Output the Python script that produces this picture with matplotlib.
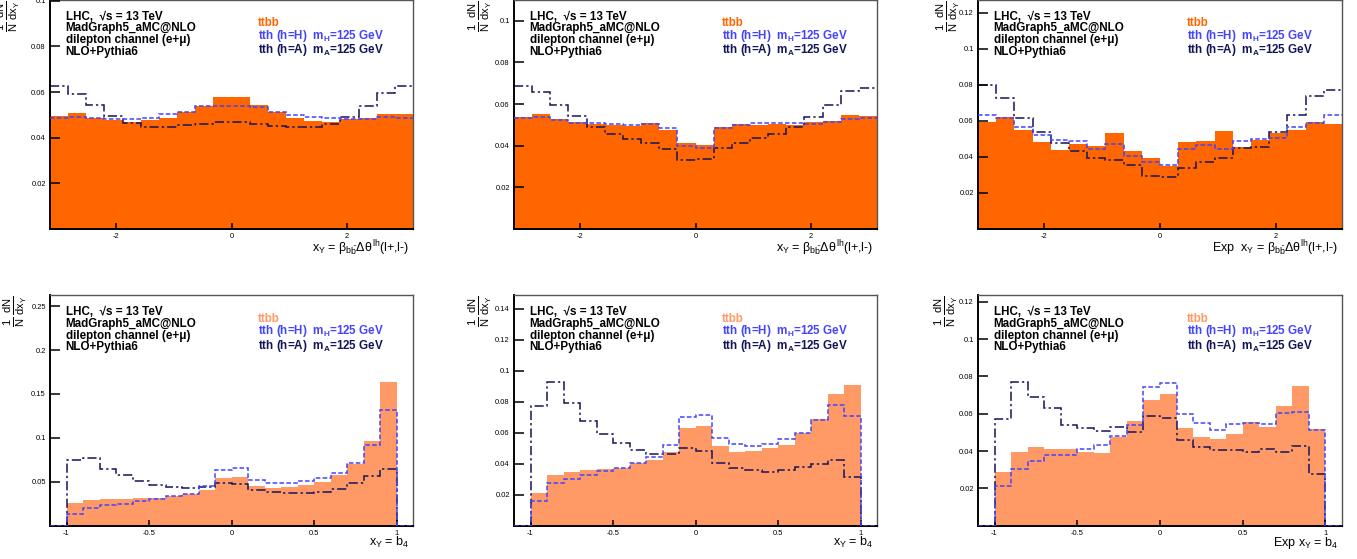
import numpy as np
import matplotlib
matplotlib.use("Agg")
import matplotlib.pyplot as plt

plt.rcParams['font.family'] = ['Liberation Sans', 'DejaVu Sans']
plt.rcParams['mathtext.fontset'] = 'custom'
plt.rcParams['mathtext.rm'] = 'Liberation Sans'
plt.rcParams['mathtext.it'] = 'Liberation Sans'
plt.rcParams['mathtext.bf'] = 'Liberation Sans:bold'
plt.rcParams['axes.unicode_minus'] = False

# --- данные: верхний ряд, 20 бинов от -pi до pi ---
ttbb_1 = [0.0497, 0.0506, 0.0484, 0.0477, 0.0468, 0.0476, 0.0484, 0.0512, 0.0540, 0.0576,
          0.0576, 0.0544, 0.0512, 0.0484, 0.0471, 0.0468, 0.0480, 0.0486, 0.0505, 0.0502]
tthH_1 = [0.0487, 0.0490, 0.0484, 0.0480, 0.0481, 0.0487, 0.0505, 0.0512, 0.0538, 0.0540,
          0.0538, 0.0535, 0.0512, 0.0499, 0.0490, 0.0486, 0.0480, 0.0483, 0.0490, 0.0487]
tthA_1 = [0.0628, 0.0593, 0.0541, 0.0494, 0.0465, 0.0448, 0.0448, 0.0454, 0.0458, 0.0470,
          0.0470, 0.0459, 0.0451, 0.0446, 0.0446, 0.0462, 0.0492, 0.0538, 0.0595, 0.0626]

ttbb_2 = [0.0539, 0.0554, 0.0530, 0.0515, 0.0504, 0.0499, 0.0494, 0.0509, 0.0474, 0.0413,
          0.0403, 0.0488, 0.0502, 0.0498, 0.0502, 0.0499, 0.0512, 0.0518, 0.0547, 0.0541]
tthH_2 = [0.0531, 0.0536, 0.0525, 0.0510, 0.0510, 0.0502, 0.0499, 0.0502, 0.0485, 0.0400,
          0.0387, 0.0485, 0.0499, 0.0510, 0.0510, 0.0509, 0.0506, 0.0514, 0.0530, 0.0534]
tthA_2 = [0.0686, 0.0659, 0.0598, 0.0541, 0.0491, 0.0456, 0.0430, 0.0413, 0.0386, 0.0333,
          0.0336, 0.0387, 0.0411, 0.0437, 0.0454, 0.0488, 0.0536, 0.0598, 0.0661, 0.0678]

ttbb_3 = [0.0593, 0.0622, 0.0550, 0.0480, 0.0439, 0.0469, 0.0463, 0.0535, 0.0431, 0.0391,
          0.0350, 0.0483, 0.0489, 0.0546, 0.0454, 0.0491, 0.0531, 0.0550, 0.0593, 0.0581]
tthH_3 = [0.0630, 0.0617, 0.0563, 0.0519, 0.0496, 0.0489, 0.0441, 0.0470, 0.0406, 0.0372,
          0.0354, 0.0441, 0.0467, 0.0446, 0.0489, 0.0500, 0.0507, 0.0565, 0.0589, 0.0633]
tthA_3 = [0.0796, 0.0728, 0.0615, 0.0537, 0.0478, 0.0431, 0.0393, 0.0385, 0.0356, 0.0296,
          0.0291, 0.0341, 0.0374, 0.0393, 0.0450, 0.0457, 0.0539, 0.0630, 0.0735, 0.0772]

# --- нижний ряд, 20 бинов от -1 до 1 (гистограмма от -1.1 до 1.1) ---
ttbb_4 = [0.0254, 0.0295, 0.0299, 0.0303, 0.0311, 0.0318, 0.0337, 0.0364, 0.0405, 0.0542,
          0.0553, 0.0451, 0.0428, 0.0439, 0.0458, 0.0500, 0.0576, 0.0708, 0.0962, 0.1640]
tthH_4 = [0.0133, 0.0205, 0.0239, 0.0250, 0.0280, 0.0303, 0.0337, 0.0364, 0.0455, 0.0640,
          0.0659, 0.0519, 0.0489, 0.0489, 0.0504, 0.0542, 0.0602, 0.0716, 0.0924, 0.1314]
tthA_4 = [0.0746, 0.0773, 0.0648, 0.0576, 0.0504, 0.0466, 0.0436, 0.0428, 0.0443, 0.0489,
          0.0477, 0.0402, 0.0379, 0.0367, 0.0367, 0.0379, 0.0420, 0.0481, 0.0568, 0.0648]

ttbb_5 = [0.0209, 0.0327, 0.0346, 0.0357, 0.0363, 0.0374, 0.0406, 0.0424, 0.0477, 0.0630,
          0.0643, 0.0514, 0.0475, 0.0484, 0.0499, 0.0520, 0.0600, 0.0686, 0.0847, 0.0907]
tthH_5 = [0.0157, 0.0273, 0.0303, 0.0329, 0.0353, 0.0374, 0.0406, 0.0445, 0.0518, 0.0699,
          0.0716, 0.0568, 0.0527, 0.0514, 0.0525, 0.0557, 0.0598, 0.0682, 0.0781, 0.0708]
tthA_5 = [0.0774, 0.0927, 0.0789, 0.0675, 0.0594, 0.0531, 0.0486, 0.0460, 0.0462, 0.0499,
          0.0482, 0.0402, 0.0374, 0.0359, 0.0344, 0.0357, 0.0376, 0.0396, 0.0421, 0.0316]

ttbb_6 = [0.0288, 0.0395, 0.0420, 0.0413, 0.0411, 0.0393, 0.0388, 0.0477, 0.0559, 0.0673,
          0.0704, 0.0523, 0.0477, 0.0463, 0.0489, 0.0557, 0.0529, 0.0641, 0.0748, 0.0518]
tthH_6 = [0.0211, 0.0304, 0.0345, 0.0379, 0.0379, 0.0411, 0.0430, 0.0482, 0.0538, 0.0745,
          0.0764, 0.0600, 0.0552, 0.0513, 0.0543, 0.0548, 0.0543, 0.0602, 0.0609, 0.0511]
tthA_6 = [0.0570, 0.0771, 0.0689, 0.0632, 0.0539, 0.0523, 0.0507, 0.0529, 0.0504, 0.0589,
          0.0577, 0.0459, 0.0423, 0.0404, 0.0405, 0.0393, 0.0413, 0.0395, 0.0427, 0.0275]

yticks_top = [[0.02, 0.04, 0.06, 0.08, 0.1],
              [0.02, 0.04, 0.06, 0.08, 0.1],
              [0.02, 0.04, 0.06, 0.08, 0.1, 0.12]]
yticks_bot = [[0.05, 0.1, 0.15, 0.2, 0.25],
              [0.02, 0.04, 0.06, 0.08, 0.1, 0.12, 0.14],
              [0.02, 0.04, 0.06, 0.08, 0.1, 0.12]]
ymax_top = [0.1003, 0.110, 0.127]
ymax_bot = [0.2624, 0.1486, 0.1235]

xlabel_top = [r'$x_{Y}$ = $\beta_{b\bar{b}}\Delta\theta^{lh}$(l+,l-)',
              r'$x_{Y}$ = $\beta_{b\bar{b}}\Delta\theta^{lh}$(l+,l-)',
              r'Exp  $x_{Y}$ = $\beta_{b\bar{b}}\Delta\theta^{lh}$(l+,l-)']
xlabel_bot = [r'$x_{Y}$ = $b_{4}$', r'$x_{Y}$ = $b_{4}$', r'Exp $x_{Y}$ = $b_{4}$']

ORANGE = '#ff6600'
SALMON = '#ff9966'
BLUE = '#4444ff'
NAVY = '#14145a'

W, H = 1357, 559
fig = plt.figure(figsize=(W / 100, H / 100), dpi=100)

col_x = [50, 514, 978]
col_w = [363, 363, 364]
ylab_off = [42, 34, 30, 35, 34, 32]


def make_axes(col, top_px, bottom_px):
    return fig.add_axes([col_x[col] / W, 1 - bottom_px / H, col_w[col] / W, (bottom_px - top_px) / H])


def style_axes(ax, idx, yticks, xticks, xlab):
    for s in ['left', 'bottom']:
        ax.spines[s].set_linewidth(1.4)
        ax.spines[s].set_color('black')
    for s in ['top', 'right']:
        ax.spines[s].set_linewidth(1.0)
        ax.spines[s].set_color('#555555')
    ax.set_yticks(yticks)
    ax.set_yticklabels(['%g' % v for v in yticks])
    ax.set_xticks(xticks)
    ax.set_xticklabels(['%g' % v for v in xticks])
    ax.tick_params(axis='y', direction='in', length=7.5, width=1.1, labelsize=5.4, pad=3)
    ax.tick_params(axis='x', direction='in', length=4, width=1.1, labelsize=5.4, pad=3)
    ax.set_axisbelow(False)
    ax.text(1.0 - 4 / 363, -0.04, xlab, transform=ax.transAxes, ha='right', va='top', fontsize=9)
    ax.text(-ylab_off[idx] / 363, 1.0, r'$\frac{1}{N}\,\frac{dN}{dx_{Y}}$', transform=ax.transAxes,
            rotation=90, ha='center', va='top', fontsize=11.5)
    # подписи
    hpx = 229.0
    lines = ['LHC,  √s = 13 TeV', 'MadGraph5_aMC@NLO', 'dilepton channel (e+μ)', 'NLO+Pythia6']
    for k, t in enumerate(lines):
        ax.text(0.043, 1 - (17 + 11.5 * k) / hpx, t, transform=ax.transAxes, ha='left', va='center',
                fontsize=8.4, fontweight='bold', color='black')


def legend_texts(ax, fill_color):
    hpx = 229.0
    ax.text(0.573, 1 - 23.5 / hpx, 'ttbb', transform=ax.transAxes, ha='left', va='center',
            fontsize=8.4, fontweight='bold', color=fill_color)
    ax.text(0.573, 1 - 35.5 / hpx, r'tth (h=H)  m$_{\mathbf{H}}$=125 GeV', transform=ax.transAxes,
            ha='left', va='center', fontsize=8.4, fontweight='bold', color=BLUE)
    ax.text(0.573, 1 - 50 / hpx, r'tth (h=A)  m$_{\mathbf{A}}$=125 GeV', transform=ax.transAxes,
            ha='left', va='center', fontsize=8.4, fontweight='bold', color=NAVY)


def draw_hists(ax, edges, tb, th, ta, fill_color):
    ax.stairs(tb, edges, fill=True, color=fill_color, zorder=1)
    ax.stairs(ta, edges, baseline=None, color=NAVY, lw=1.1, linestyle=(0, (6, 2, 1.5, 2)), zorder=2)
    ax.stairs(th, edges, baseline=None, color=BLUE, lw=1.1, linestyle=(0, (3, 1.5)), zorder=3)


top_sets = [(ttbb_1, tthH_1, tthA_1), (ttbb_2, tthH_2, tthA_2), (ttbb_3, tthH_3, tthA_3)]
bot_sets = [(ttbb_4, tthH_4, tthA_4), (ttbb_5, tthH_5, tthA_5), (ttbb_6, tthH_6, tthA_6)]

edges_top = np.linspace(-np.pi, np.pi, 21)
edges_bot = np.linspace(-1.1, 1.1, 23)

for c in range(3):
    ax = make_axes(c, 0, 229)
    tb, th, ta = top_sets[c]
    draw_hists(ax, edges_top, tb, th, ta, ORANGE)
    ax.set_xlim(-np.pi, np.pi)
    ax.set_ylim(0, ymax_top[c])
    style_axes(ax, c, yticks_top[c], [-2, 0, 2], xlabel_top[c])
    legend_texts(ax, ORANGE)

for c in range(3):
    ax = make_axes(c, 295.3, 525.7)
    tb, th, ta = bot_sets[c]
    # пустые бины по краям (-1.1..-1 и 1..1.1)
    tb = [0] + list(tb) + [0]
    th = [0] + list(th) + [0]
    ta = [0] + list(ta) + [0]
    draw_hists(ax, edges_bot, tb, th, ta, SALMON)
    ax.set_xlim(-1.1, 1.1)
    ax.set_ylim(0, ymax_bot[c])
    style_axes(ax, c + 3, yticks_bot[c], [-1, -0.5, 0, 0.5, 1], xlabel_bot[c])
    legend_texts(ax, SALMON)

fig.savefig('out.png', dpi=100)
